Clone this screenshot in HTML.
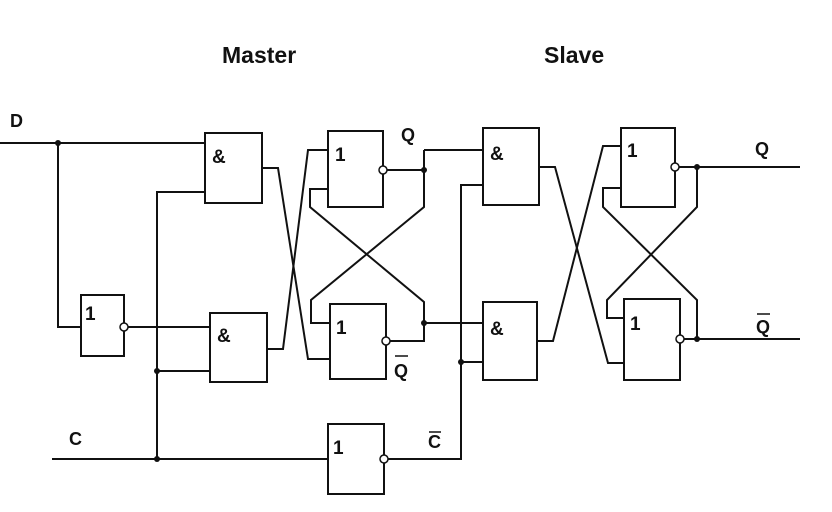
<!DOCTYPE html>
<html><head><meta charset="utf-8"><style>
html,body{margin:0;padding:0;background:#fff;}
svg{display:block;}
text{font-family:"Liberation Sans",Arial,sans-serif;font-weight:bold;fill:#111;}
</style></head><body>
<svg width="832" height="512" viewBox="0 0 832 512" xmlns="http://www.w3.org/2000/svg">
<g stroke="#111" stroke-width="2" fill="none">
<rect x="205" y="133" width="57" height="70"/>
<rect x="81" y="295" width="43" height="61"/>
<rect x="210" y="313" width="57" height="69"/>
<rect x="328" y="131" width="55" height="76"/>
<rect x="330" y="304" width="56" height="75"/>
<rect x="483" y="128" width="56" height="77"/>
<rect x="483" y="302" width="54" height="78"/>
<rect x="621" y="128" width="54" height="79"/>
<rect x="624" y="299" width="56" height="81"/>
<rect x="328" y="424" width="56" height="70"/>
<polyline points="0,143 205,143"/>
<polyline points="58,143 58,327 81,327"/>
<polyline points="128,327 210,327"/>
<polyline points="52,459 328,459"/>
<polyline points="157,459 157,192 205,192"/>
<polyline points="157,371 210,371"/>
<polyline points="262,168 278,168 308,359 330,359"/>
<polyline points="267,349 283,349 308,150 328,150"/>
<polyline points="387,170 424,170"/>
<polyline points="328,189 310,189 310,207 424,302 424,341 390,341"/>
<polyline points="424,150 424,207 311,300 311,323 330,323"/>
<polyline points="424,150 483,150"/>
<polyline points="424,323 483,323"/>
<polyline points="388,459 461,459 461,185 483,185"/>
<polyline points="461,362 483,362"/>
<polyline points="539,167 555,167 608,363 624,363"/>
<polyline points="537,341 553,341 603,146 621,146"/>
<polyline points="679,167 800,167"/>
<polyline points="621,188 603,188 603,207 697,300 697,339"/>
<polyline points="697,167 697,207 607,300 607,318 624,318"/>
<polyline points="684,339 800,339"/>
</g>
<g stroke="#111" stroke-width="1.5" fill="#fff">
<circle cx="124" cy="327" r="4"/>
<circle cx="383" cy="170" r="4"/>
<circle cx="386" cy="341" r="4"/>
<circle cx="675" cy="167" r="4"/>
<circle cx="680" cy="339" r="4"/>
<circle cx="384" cy="459" r="4"/>
</g>
<g fill="#111">
<circle cx="58" cy="143" r="3"/>
<circle cx="157" cy="371" r="3"/>
<circle cx="157" cy="459" r="3"/>
<circle cx="424" cy="170" r="3"/>
<circle cx="424" cy="323" r="3"/>
<circle cx="461" cy="362" r="3"/>
<circle cx="697" cy="167" r="3"/>
<circle cx="697" cy="339" r="3"/>
</g>
<g font-size="23">
<text x="222" y="63">Master</text>
<text x="544" y="63">Slave</text>
</g>
<g font-size="19">
<text x="212" y="163">&amp;</text>
<text x="217" y="342">&amp;</text>
<text x="490" y="160">&amp;</text>
<text x="490" y="335">&amp;</text>
<text x="85" y="320">1</text>
<text x="335" y="161">1</text>
<text x="336" y="334">1</text>
<text x="627" y="157">1</text>
<text x="630" y="330">1</text>
<text x="333" y="454">1</text>
</g>
<g font-size="18">
<text x="10" y="127">D</text>
<text x="401" y="141">Q</text>
<text x="394" y="377">Q</text>
<text x="755" y="155">Q</text>
<text x="756" y="333">Q</text>
<text x="69" y="445">C</text>
<text x="428" y="448">C</text>
</g>
<g stroke="#111" stroke-width="1.5">
<line x1="395" y1="356" x2="408" y2="356"/>
<line x1="757" y1="314" x2="770" y2="314"/>
<line x1="429" y1="432" x2="441" y2="432"/>
</g>
</svg>
</body></html>
